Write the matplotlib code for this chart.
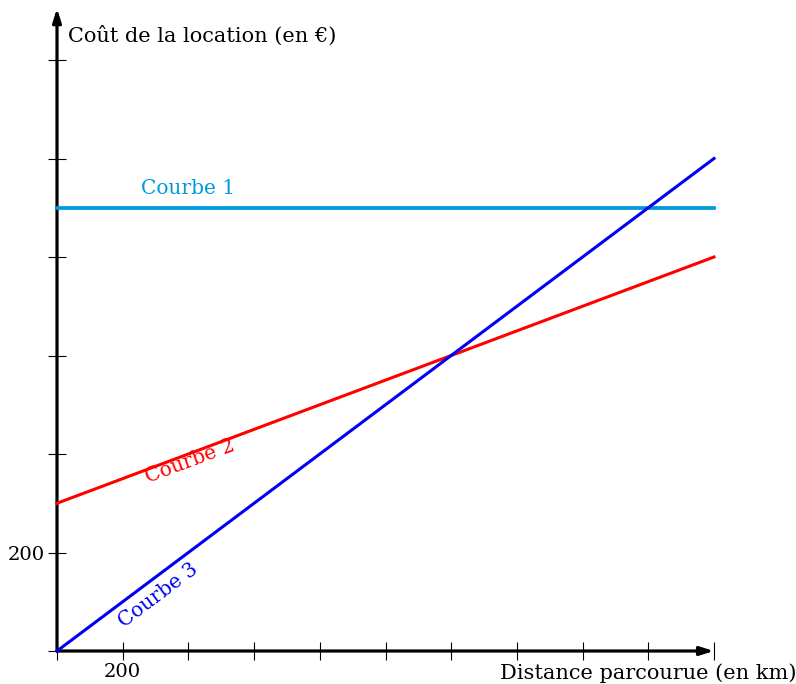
import matplotlib
matplotlib.use("Agg")
import matplotlib.pyplot as plt
import numpy as np

# data (km, euros)
distance = [0, 2000]
courbe1 = [900, 900]
courbe2 = [300, 800]
courbe3 = [0, 1000]

x_ticks = list(range(0, 2001, 200))
y_ticks = list(range(0, 1201, 200))

C1 = "#0099dd"
C2 = "#ff0000"
C3 = "#0000ee"

plt.rcParams["font.family"] = ["DejaVu Serif"]

W, H = 796, 684
fig = plt.figure(figsize=(W / 100, H / 100), dpi=100)
ax = fig.add_axes([0, 0, 1, 1])

px_x0, px_per_x = 57, 65.7 / 200
px_y0, px_per_y = 651, 98.5 / 200
ax.set_xlim(-px_x0 / px_per_x, (W - px_x0) / px_per_x)
ax.set_ylim(-(H - px_y0) / px_per_y, px_y0 / px_per_y)

for s in ax.spines.values():
    s.set_visible(False)
ax.spines["left"].set_position(("data", 0))
ax.spines["bottom"].set_position(("data", 0))

ax.set_xticks(x_ticks)
ax.set_yticks(y_ticks)
ax.set_xticklabels(["200" if v == 200 else "" for v in x_ticks])
ax.set_yticklabels(["200" if v == 200 else "" for v in y_ticks])
ax.tick_params(direction="inout", length=13.5, width=0.8, labelsize=14, pad=2)

# axes with arrows
ax.annotate("", xy=(2000, 0), xytext=(0, 0),
            arrowprops=dict(arrowstyle="-|>,head_length=0.8,head_width=0.25", lw=2.3, color="black",
                            shrinkA=0, shrinkB=0))
ax.annotate("", xy=(0, 1305), xytext=(0, 0),
            arrowprops=dict(arrowstyle="-|>,head_length=0.8,head_width=0.25", lw=2.3, color="black",
                            shrinkA=0, shrinkB=0))

ax.plot(distance, courbe1, color=C1, lw=2.7, zorder=3)
ax.plot(distance, courbe2, color=C2, lw=2.2, zorder=3)
ax.plot(distance, courbe3, color=C3, lw=2.2, zorder=3)

ax.text(399, 940, "Courbe 1", color=C1, fontsize=14.5, ha="center", va="center")
ax.text(405, 386, "Courbe 2", color=C2, fontsize=14.5, ha="center", va="center",
        rotation=20.5, rotation_mode="anchor")
ax.text(308, 112, "Courbe 3", color=C3, fontsize=14.5, ha="center", va="center",
        rotation=36.9, rotation_mode="anchor")

ax.text(33, 1250, "Coût de la location (en €)", fontsize=15, ha="left", va="center")
ax.text(2250, -46, "Distance parcourue (en km)", fontsize=15, ha="right", va="center")

fig.savefig("out.png", dpi=100)
